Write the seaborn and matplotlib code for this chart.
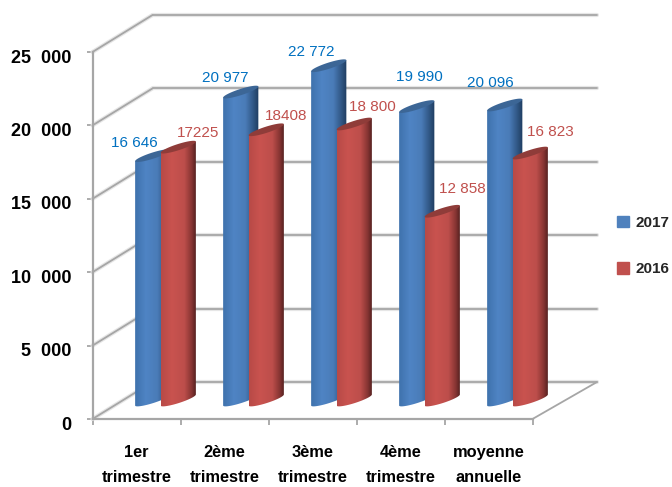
import numpy as np
import pandas as pd
import seaborn as sns
import matplotlib.pyplot as plt
from matplotlib.colors import LinearSegmentedColormap
from matplotlib.patches import Patch, PathPatch, Polygon
from matplotlib.path import Path
from matplotlib.transforms import ScaledTranslation

categories = ["1er\ntrimestre", "2ème\ntrimestre", "3ème\ntrimestre", "4ème\ntrimestre", "moyenne\nannuelle"]
values_2017 = [16646, 20977, 22772, 19990, 20096]
values_2016 = [17225, 18408, 18800, 12858, 16823]
labels_2017 = ["16 646", "20 977", "22 772", "19 990", "20 096"]
labels_2016 = ["17225", "18408", "18 800", "12 858", "16 823"]
y_ticks = [0, 5000, 10000, 15000, 20000, 25000]
y_tick_labels = ["0", "5  000", "10  000", "15  000", "20  000", "25  000"]

sns.set_theme(style="white")
plt.rcParams["font.family"] = ["Liberation Sans", "DejaVu Sans"]

W, H = 672, 487
LEFT, RIGHT, BOTTOM, TOP = 92.5, 532.5, 419, 52
PX_X = (RIGHT - LEFT) / 5
PX_Y = (BOTTOM - TOP) / 25000
GREY = "#a6a6a6"

df = pd.DataFrame({
    "cat": categories * 2,
    "year": ["2017"] * 5 + ["2016"] * 5,
    "val": values_2017 + values_2016,
})

fig = plt.figure(figsize=(W / 100, H / 100), dpi=100)
ax = fig.add_axes([LEFT / W, 1 - BOTTOM / H, (RIGHT - LEFT) / W, (BOTTOM - TOP) / H])

colors = {"2017": "#4f81bd", "2016": "#c0504d"}
sns.barplot(data=df, x="cat", y="val", hue="year", hue_order=["2017", "2016"],
            palette=colors, width=0.8, gap=0, saturation=1, legend=False, ax=ax)

# back wall + floor of the fake 3d box
back_l, back_r = -0.5 + 60 / PX_X, 4.5 + 64.5 / PX_X
lift = 37 / PX_Y
for t in y_ticks:
    for lw, col in [(3, "#e6e6e6"), (1.3, GREY)]:
        ax.plot([-0.5, back_l], [t, t + lift], color=col, lw=lw, clip_on=False, zorder=1)
        ax.plot([back_l, back_r], [t + lift, t + lift], color=col, lw=lw, clip_on=False, zorder=1)
ax.plot([4.5, back_r], [0, lift], color=GREY, lw=1.3, clip_on=False, zorder=1)

# cylinders, built from the bars seaborn placed
blue_map = LinearSegmentedColormap.from_list("b", [(0, "#3f72ad"), (0.3, "#4f84c4"), (0.62, "#4a7cb8"), (0.82, "#345c8c"), (1, "#1f3d60")])
red_map = LinearSegmentedColormap.from_list("r", [(0, "#b84a47"), (0.3, "#c9534f"), (0.65, "#bd4e4b"), (0.85, "#8a3634"), (1, "#4e1e1d")])
shift_x = 29 / PX_X
base = 19 / PX_Y
shear = 5.5 / PX_Y
bulge = 3.2 / PX_Y
grad = np.linspace(0, 1, 64).reshape(1, -1)
t = np.linspace(0, np.pi, 40)
t2 = np.linspace(0, 2 * np.pi, 60)

bars = list(ax.patches)
n = len(categories)
draw_order = [i for k in range(n) for i in (k, k + n)]
for j, idx in enumerate(draw_order):
    p = bars[idx]
    is_blue = idx < n
    cx = p.get_x() + p.get_width() / 2
    cx = round(cx) + (-0.145 if is_blue else 0.145) + shift_x
    a = p.get_width() / 2
    top = p.get_height() + base
    # lower half of the base ellipse, left to right
    xb = cx - a * np.cos(t)
    yb = base + shear * (xb - cx) / a - bulge * np.sin(t)
    body = np.column_stack([np.r_[xb, cx + a, cx - a], np.r_[yb, top + shear, top - shear]])
    z = 3 + j * 0.1
    im = ax.imshow(grad, cmap=blue_map if is_blue else red_map, aspect="auto",
                   extent=[cx - a, cx + a, base - shear - bulge, top + shear + bulge], zorder=z)
    clip = PathPatch(Path(body), transform=ax.transData, fc="none", ec="none")
    ax.add_patch(clip)
    im.set_clip_box(fig.bbox)
    im.set_clip_path(clip)
    xt = cx + a * np.cos(t2)
    yt = top + shear * np.cos(t2) + bulge * np.sin(t2)
    ax.add_patch(Polygon(np.column_stack([xt, yt]), closed=True, clip_on=False,
                         fc="#3c6696" if is_blue else "#8f3c39", ec="none", zorder=z + 0.01))
    p.set_visible(False)

ax.set_xlim(-0.5, 4.5)
ax.set_ylim(0, 25000)

# value labels, offsets in px from bar top
off_2017 = [(-18.5, 12.6), (-15.5, 14), (-17.5, 13.7), (2.5, 30), (-14, 22)]
off_2016 = [(19.5, 14), (19.5, 14), (18.5, 17), (20.5, 22), (20.5, 21)]
for i in range(n):
    for vals, labs, offs, sign, col in [(values_2017, labels_2017, off_2017, -0.145, "#0070c0"),
                                        (values_2016, labels_2016, off_2016, 0.145, "#c0504d")]:
        ax.annotate(labs[i], (i + sign + shift_x, vals[i] + base),
                    xytext=(offs[i][0] * 0.72, offs[i][1] * 0.72), textcoords="offset points",
                    ha="center", va="center", color=col, fontsize=11, annotation_clip=False, zorder=10)

ax.set_xlabel("")
ax.set_ylabel("")
ax.set_xticks(np.arange(-0.5, 5))
ax.set_xticklabels([""] * 6)
for i, c in enumerate(categories):
    ax.annotate(c, (i, 0), xytext=(0, -46 * 0.72), textcoords="offset points", ha="center", va="center",
                fontsize=11.8, fontweight="bold", color="black", linespacing=1.9, annotation_clip=False)
ax.set_yticks(y_ticks)
ax.set_yticklabels(y_tick_labels, fontsize=13, fontweight="bold", color="black")
ax.tick_params(axis="both", length=4, width=1.3, color=GREY, left=True, bottom=True)
ax.tick_params(axis="y", pad=11)
shift = ScaledTranslation(0, -3 / 72, fig.dpi_scale_trans)
for lab in ax.get_yticklabels():
    lab.set_transform(lab.get_transform() + shift)

sns.despine(ax=ax)
for side in ["left", "bottom"]:
    ax.spines[side].set_color(GREY)
    ax.spines[side].set_linewidth(1.6)
ax.patch.set_alpha(0)

handles = [Patch(color=colors["2017"], label="2017"), Patch(color=colors["2016"], label="2016")]
fig.legend(handles=handles, loc="center left", bbox_to_anchor=(617 / W, 1 - 246 / H),
           frameon=False, handlelength=0.78, handleheight=0.78, handletextpad=0.42,
           labelspacing=2.1, borderpad=0, borderaxespad=0, prop={"size": 11, "weight": "bold"})

fig.savefig("out.png", dpi=100)
plt.close(fig)
